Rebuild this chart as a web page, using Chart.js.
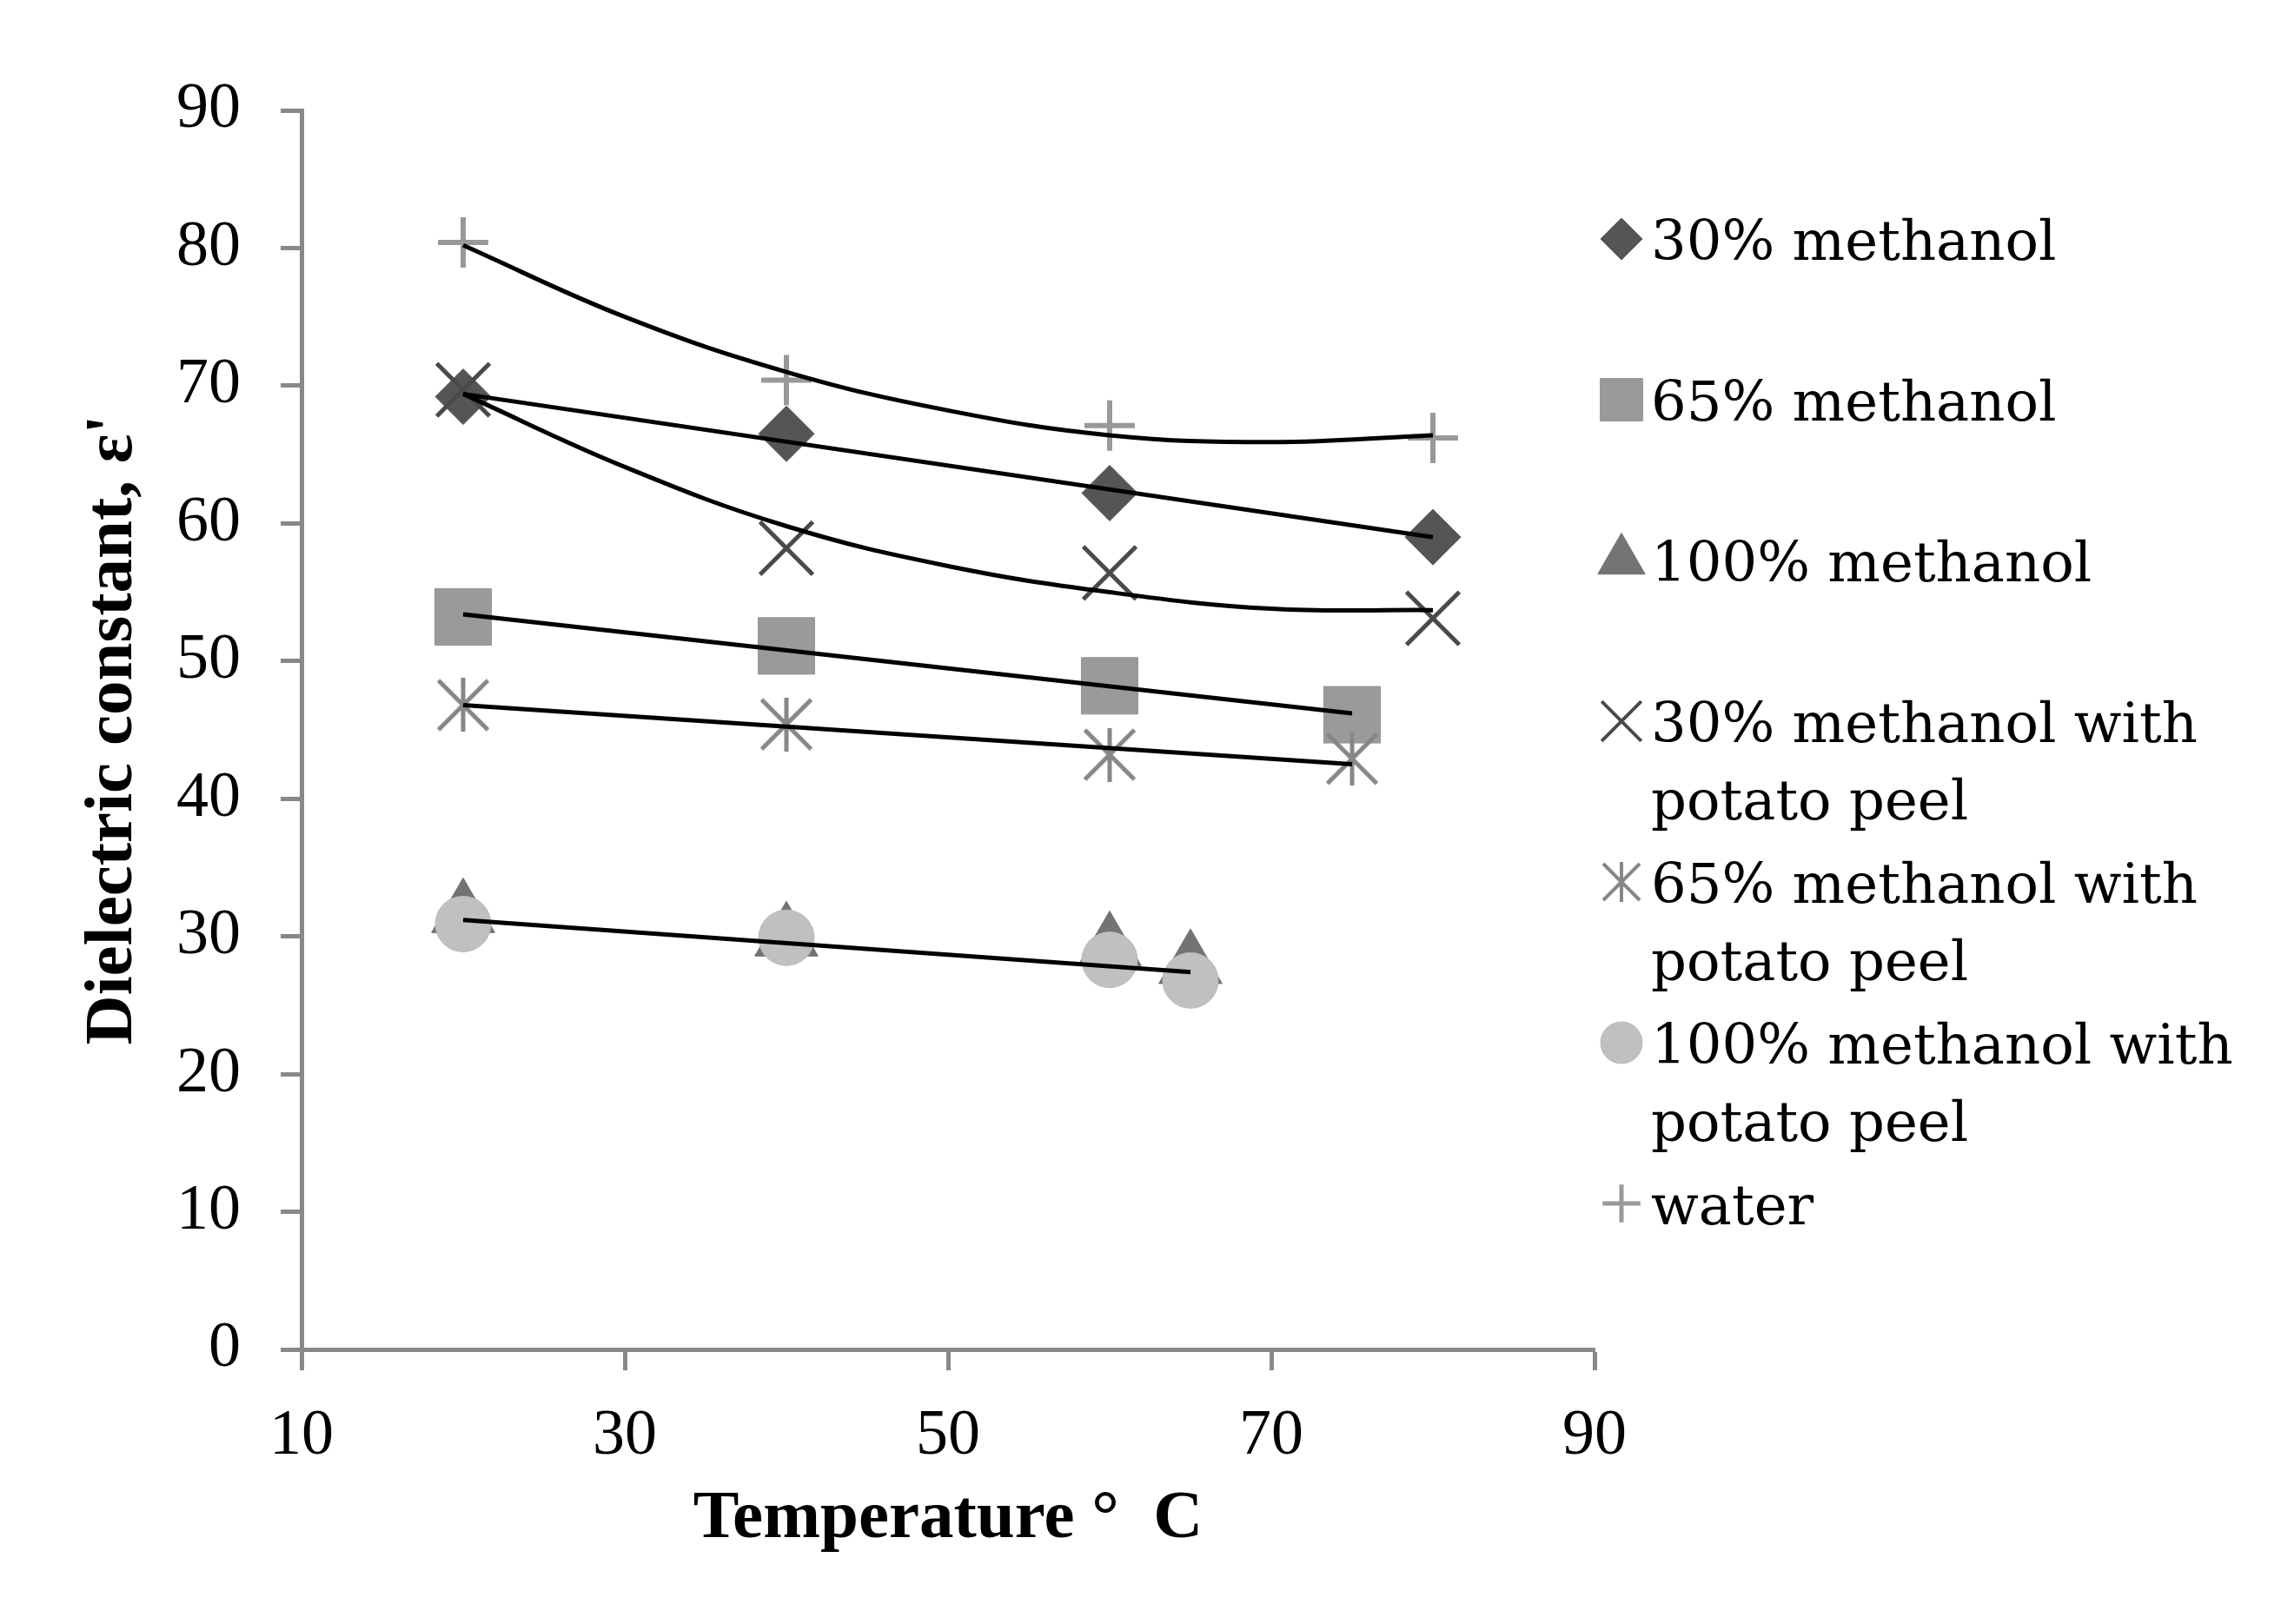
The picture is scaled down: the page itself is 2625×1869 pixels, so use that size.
<!DOCTYPE html>
<html lang="en">
<head>
<meta charset="UTF-8" />
<title>Dielectric constant vs temperature</title>
<script src="https://cdn.jsdelivr.net/npm/chart.js@4"></script>
<style>
  body { margin: 0; background: #fff; }
  #wrap { position: relative; width: 2625px; height: 1869px; }
  #legend { position: absolute; left: 0; top: 0; font-family: "DejaVu Serif", serif; font-size: 64px; color: #000; }
  .item { position: absolute; left: 1900px; width: 700px; line-height: 89px; white-space: normal; }
  .mark { position: absolute; }
</style>
</head>
<body>
<div id="wrap">
  <canvas id="chart" width="2625" height="1869"></canvas>
  <div id="legend"></div>
</div>
<script>
// series names, as in the legend
const seriesNames = [
  "30% methanol",
  "65% methanol",
  "100% methanol",
  "30% methanol with potato peel",
  "65% methanol with potato peel",
  "100% methanol with potato peel",
  "water"
];

// measured temperatures (°C)
const temps30 = [20, 40, 60, 80];
const temps65 = [20, 40, 60, 75];
const temps100 = [20, 40, 60, 65];

// dielectric constant readings
const methanol30 = [69.2, 66.5, 62.2, 59.0];
const methanol65 = [53.2, 51.1, 48.2, 46.1];
const methanol100 = [31.6, 29.9, 29.2, 27.9];
const peel30 = [69.7, 58.2, 56.4, 53.1];
const peel65 = [46.8, 45.4, 43.2, 42.9];
const peel100 = [30.9, 29.9, 28.3, 26.8];
const water = [80.4, 70.4, 67.1, 66.2];

// trend lines
const curveTemps = [20, 30, 40, 50, 60, 70, 80];
const waterTrend = [80.2, 75.0, 71.0, 68.2, 66.4, 65.9, 66.4];
const peel30Trend = [69.4, 64.1, 59.8, 56.9, 55.0, 53.8, 53.7];
const methanol30Trend = [69.4, 59.0];   // 20 -> 80
const methanol65Trend = [53.4, 46.2];   // 20 -> 75
const peel65Trend = [46.8, 42.5];       // 20 -> 75
const peel100Trend = [31.2, 27.4];      // 20 -> 65

// axis ticks
const xTicks = [10, 30, 50, 70, 90];
const yTicks = [0, 10, 20, 30, 40, 50, 60, 70, 80, 90];

const seriesTemps = [temps30, temps65, temps100, temps30, temps65, temps100, temps30];
const seriesValues = [methanol30, methanol65, methanol100, peel30, peel65, peel100, water];

function pts(xs, ys) {
  return xs.map((x, i) => ({ x: x, y: ys[i] }));
}

// excel-style asterisk: vertical bar plus an X
function asterisk(size, color, lw) {
  const c = document.createElement('canvas');
  c.width = c.height = size;
  const g = c.getContext('2d');
  g.strokeStyle = color;
  g.lineWidth = lw;
  const m = lw / 2;
  g.beginPath();
  g.moveTo(size / 2, 0); g.lineTo(size / 2, size);
  g.moveTo(m, m); g.lineTo(size - m, size - m);
  g.moveTo(size - m, m); g.lineTo(m, size - m);
  g.stroke();
  return c;
}

const markers = [
  { style: 'rectRot', r: 32, fill: '#555555', line: '#555555', bw: 1 },
  { style: 'rect', r: 46, fill: '#9a9a9a', line: '#959595', bw: 1 },
  { style: 'triangle', r: 42, fill: '#737373', line: '#737373', bw: 1 },
  { style: 'crossRot', r: 43, fill: '#4a4a4a', line: '#4a4a4a', bw: 5 },
  { style: asterisk(62, '#878787', 5), legendStyle: asterisk(46, '#878787', 4), r: 31, fill: '#878787', line: '#878787', bw: 5 },
  { style: 'circle', r: 32, fill: '#c0c0c0', line: '#b9b9b9', bw: 1 },
  { style: 'cross', r: 29, fill: '#999999', line: '#999999', bw: 6 }
];

const datasets = [];

// trend lines first so they sit on top
function trend(xs, ys, curved) {
  datasets.push({
    data: pts(xs, ys),
    showLine: true,
    borderColor: '#000',
    borderWidth: 5,
    pointRadius: 0,
    tension: curved ? 0.4 : 0,
    fill: false,
    order: 0
  });
}
trend(curveTemps, waterTrend, true);
trend(curveTemps, peel30Trend, true);
trend([temps30[0], temps30[3]], methanol30Trend, false);
trend([temps65[0], temps65[3]], methanol65Trend, false);
trend([temps65[0], temps65[3]], peel65Trend, false);
trend([temps100[0], temps100[3]], peel100Trend, false);

seriesNames.forEach((name, i) => {
  const m = markers[i];
  datasets.push({
    label: name,
    data: pts(seriesTemps[i], seriesValues[i]),
    showLine: false,
    pointStyle: m.style,
    pointRadius: m.r,
    backgroundColor: m.fill,
    borderColor: m.line,
    borderWidth: m.bw,
    order: 10 - i
  });
});

const axisGrey = '#888888';
const tickFont = { family: 'Liberation Serif', size: 74 };
const titleFont = { family: 'Liberation Serif', size: 79, weight: 'bold' };

new Chart(document.getElementById('chart'), {
  type: 'scatter',
  data: { datasets: datasets },
  options: {
    responsive: false,
    devicePixelRatio: 1,
    animation: false,
    events: [],
    layout: { padding: { left: 0, top: 127, right: 790, bottom: 0 } },
    plugins: { legend: { display: false }, tooltip: { enabled: false } },
    scales: {
      x: {
        type: 'linear',
        min: 10,
        max: 90,
        afterBuildTicks: s => { s.ticks = xTicks.map(v => ({ value: v })); },
        afterFit: s => { s.height = 316; },
        ticks: { font: tickFont, color: '#000', padding: 32, maxRotation: 0 },
        grid: { drawOnChartArea: false, tickLength: 24, tickWidth: 5, tickColor: axisGrey },
        border: { color: axisGrey, width: 5 },
        title: { display: true, text: 'Temperature °  C', font: titleFont, color: '#000', padding: { top: 0, bottom: 73 } }
      },
      y: {
        type: 'linear',
        min: 0,
        max: 90,
        afterBuildTicks: s => { s.ticks = yTicks.map(v => ({ value: v })); },
        afterFit: s => { s.width = 347; },
        ticks: { font: tickFont, color: '#000', padding: 46 },
        grid: { drawOnChartArea: false, tickLength: 24, tickWidth: 5, tickColor: axisGrey },
        border: { color: axisGrey, width: 5 },
        title: { display: true, text: "Dielectric constant, ε'", font: titleFont, color: '#000', padding: { top: 83, bottom: 0 } }
      }
    }
  }
});

// legend on the right, markers drawn with Chart.js' own point helper
const legend = document.getElementById('legend');
seriesNames.forEach((name, i) => {
  const m = markers[i];
  const centerY = 275 + 185 * i;

  const item = document.createElement('div');
  item.className = 'item';
  item.style.top = (centerY + 25 - 67) + 'px';
  item.textContent = name;
  legend.appendChild(item);

  const c = document.createElement('canvas');
  c.className = 'mark';
  c.width = c.height = 90;
  c.style.left = (1866 - 45) + 'px';
  c.style.top = (centerY - 45) + 'px';
  const g = c.getContext('2d');
  g.fillStyle = m.fill;
  g.strokeStyle = m.line;
  g.lineWidth = m.bw === 1 ? 1 : m.bw - 1;
  Chart.helpers.drawPoint(g, {
    pointStyle: m.legendStyle || m.style,
    radius: m.r * 0.75,
    rotation: 0,
    borderWidth: g.lineWidth
  }, 45, 45);
  legend.appendChild(c);
});
</script>
</body>
</html>
